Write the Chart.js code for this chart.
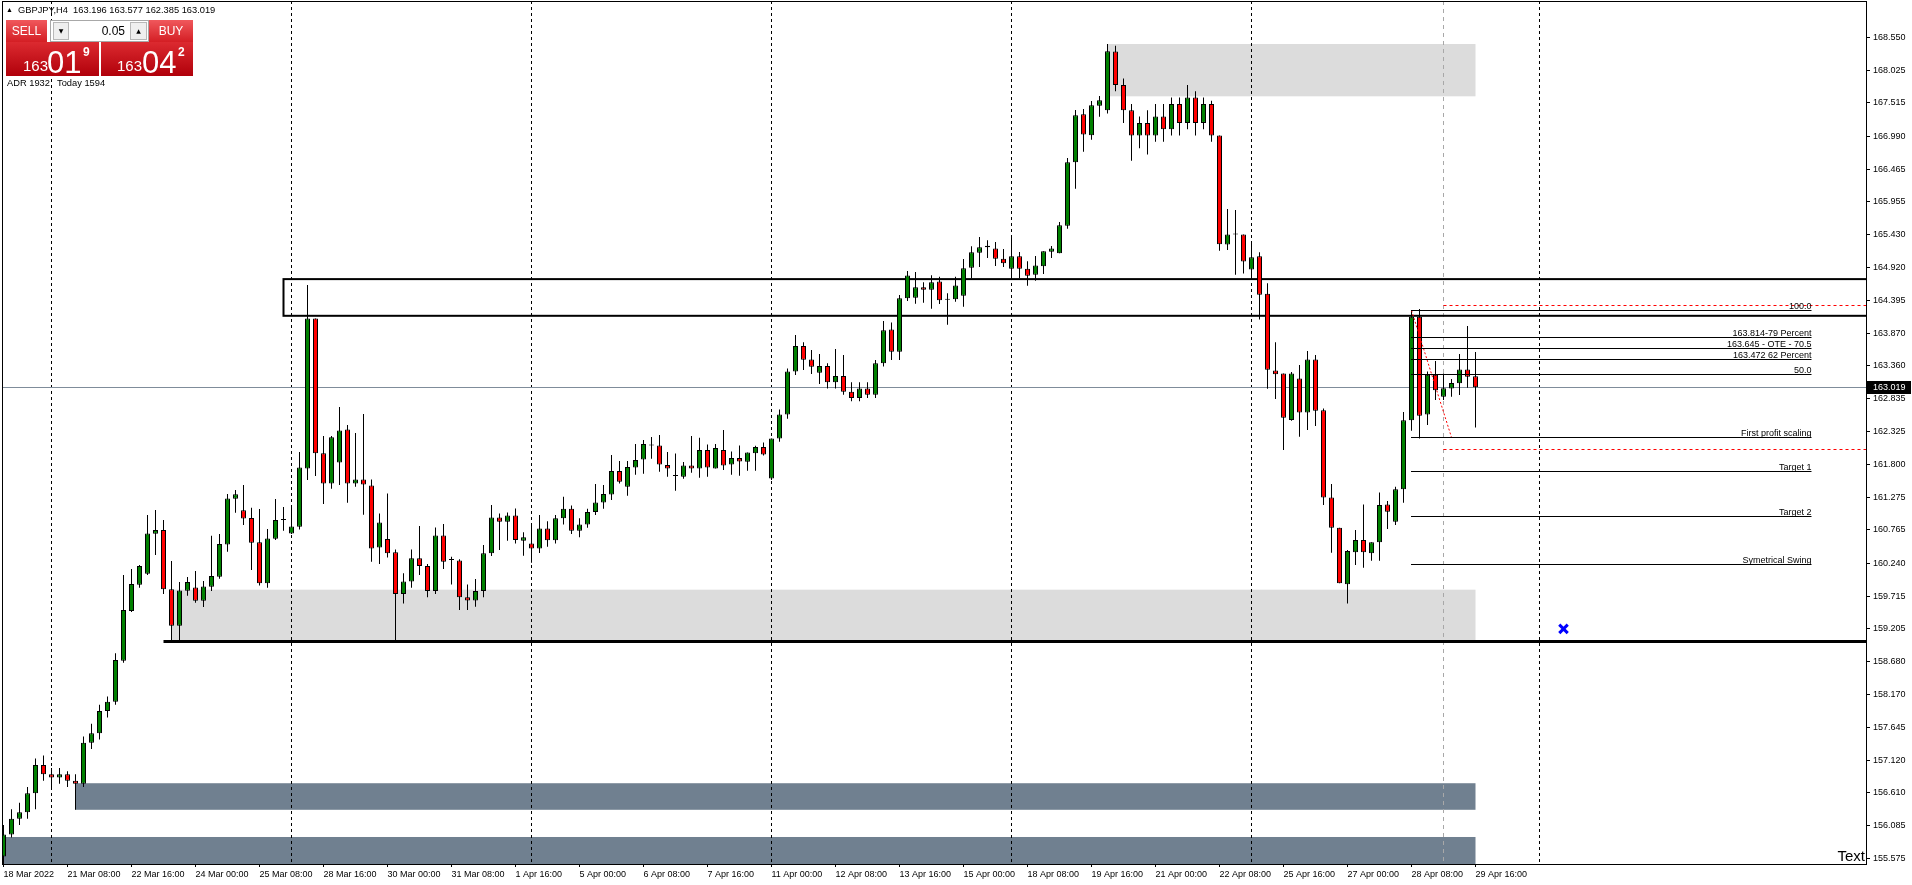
<!DOCTYPE html>
<html><head><meta charset="utf-8">
<script src="https://cdn.jsdelivr.net/npm/chart.js@4.4.0/dist/chart.umd.min.js"></script>
<style>
html,body{margin:0;padding:0;background:#fff;overflow:hidden}
#wrap{position:relative;width:1912px;height:885px}
canvas{position:absolute;left:0;top:0}
.t{position:absolute;font-family:"Liberation Sans",Arial,sans-serif;white-space:nowrap;line-height:1}
.btn{position:absolute;color:#fff;font-family:"Liberation Sans",Arial,sans-serif;font-size:12px;text-align:center;line-height:22px;background:linear-gradient(#f0585c,#d41e24)}
.big{position:absolute;background:linear-gradient(#dc2a30,#b0000a);color:#fff;font-family:"Liberation Sans",Arial,sans-serif}
.big span{position:absolute;line-height:1}
</style></head><body>
<div id="wrap">
<canvas id="c" width="1912" height="885"></canvas>
<div class="t" style="left:6px;top:6px;font-size:7px">▲</div>
<div class="t" style="left:18px;top:6px;font-size:9.3px">GBPJPY,H4&nbsp; 163.196 163.577 162.385 163.019</div>
<div class="btn" style="left:6px;top:20px;width:41px;height:22px">SELL</div>
<div style="position:absolute;left:50px;top:20px;width:97px;height:20px;background:#fff;border:1px solid #a8a8a8"></div>
<div style="position:absolute;left:53px;top:22px;width:14px;height:16px;background:#efefef;border:1px solid #b8b8b8;font-size:6px;text-align:center;line-height:16px;font-family:'DejaVu Sans'">▼</div>
<div style="position:absolute;left:130px;top:22px;width:15px;height:16px;background:#efefef;border:1px solid #b8b8b8;font-size:6px;text-align:center;line-height:16px;font-family:'DejaVu Sans'">▲</div>
<div class="t" style="left:97px;top:25px;width:28px;text-align:right;font-size:12px">0.05</div>
<div class="btn" style="left:149px;top:20px;width:44px;height:22px">BUY</div>
<div class="big" style="left:6px;top:42px;width:93px;height:34px">
  <span style="left:17px;top:16px;font-size:15px">163</span>
  <span style="left:41px;top:5px;font-size:31px">01</span>
  <span style="left:77px;top:4px;font-size:12px;font-weight:bold">9</span>
</div>
<div class="big" style="left:101px;top:42px;width:92px;height:34px">
  <span style="left:16px;top:16px;font-size:15px">163</span>
  <span style="left:41px;top:5px;font-size:31px">04</span>
  <span style="left:77px;top:4px;font-size:12px;font-weight:bold">2</span>
</div>
<div class="t" style="left:7px;top:79px;font-size:9.3px">ADR 1932</div>
<div class="t" style="left:57px;top:79px;font-size:9.3px">Today 1594</div>
</div>
<script>
// ---- data ----
const xLabels = ['18 Mar 2022','21 Mar 08:00','22 Mar 16:00','24 Mar 00:00','25 Mar 08:00','28 Mar 16:00','30 Mar 00:00','31 Mar 08:00','1 Apr 16:00','5 Apr 00:00','6 Apr 08:00','7 Apr 16:00','11 Apr 00:00','12 Apr 08:00','13 Apr 16:00','15 Apr 00:00','18 Apr 08:00','19 Apr 16:00','21 Apr 00:00','22 Apr 08:00','25 Apr 16:00','27 Apr 00:00','28 Apr 08:00','29 Apr 16:00'];
const labelStep = 8;
const yTicks = [168.550,168.025,167.515,166.990,166.465,165.955,165.430,164.920,164.395,163.870,163.360,162.835,162.325,161.800,161.275,160.765,160.240,159.715,159.205,158.680,158.170,157.645,157.120,156.610,156.085,155.575];

const open = [155.60,155.95,156.20,156.30,156.60,157.05,156.90,156.85,156.90,156.80,156.75,157.40,157.55,157.90,158.05,158.697,159.482,159.899,160.072,160.705,
160.763,159.825,159.25,159.804,159.856,159.645,159.867,160.025,160.536,161.258,161.074,160.952,160.568,159.92,160.625,160.92,160.71,160.815,161.737,164.109,
161.975,161.5,161.832,162.354,161.5,161.563,161.468,160.488,160.62,160.41,159.75,159.95,160.315,160.194,159.8,160.678,160.288,160.283,159.7,159.65,
159.8,160.394,160.963,160.894,160.994,160.594,160.552,160.473,160.789,160.6,160.95,161.1,160.75,160.85,161.05,161.2,161.326,161.695,161.447,161.753,
161.88,162.101,162.101,161.79,161.616,161.605,161.785,161.737,162.027,161.737,162.027,161.801,161.901,161.843,161.975,162.075,161.579,162.212,162.591,163.271,
163.672,163.461,163.25,163.355,163.1,163.2,162.95,162.85,163.0,162.9,163.4,163.935,163.582,164.426,164.436,164.6,164.563,164.694,164.405,164.41,
164.468,164.91,165.148,165.258,165.216,165.053,164.895,165.09,164.895,164.8,164.932,165.163,165.137,165.575,166.576,167.335,167.003,167.472,167.398,168.33,
167.8,167.4,167.0,167.2,167.0,167.3,167.1,167.5,167.2,167.6,167.2,167.5,167.0,165.279,165.437,165.437,164.884,165.09,164.499,163.287,
163.239,162.502,163.16,162.623,163.461,162.655,161.279,160.8,159.904,160.41,160.605,160.394,160.568,161.168,160.894,161.406,162.497,164.136,162.591,163.219,
162.871,163.0,163.082,163.303,163.196];
const high = [156.10,156.35,156.45,156.70,157.15,157.20,157.00,157.00,156.95,156.90,157.50,157.70,158.00,158.13,158.813,160.051,160.146,160.21,161.0,161.079,
160.921,160.273,159.94,160.02,160.114,159.956,160.673,160.7,161.332,161.395,161.474,161.116,161.095,160.778,161.252,161.126,161.152,161.995,164.636,164.109,
162.249,162.249,162.707,162.422,162.296,162.596,161.563,161.026,161.342,160.457,160.078,160.457,160.826,160.225,160.805,160.857,160.341,160.3,159.9,159.99,
160.526,161.158,161.026,161.042,161.105,160.726,160.868,161.0,160.9,161.0,161.29,161.15,160.95,161.1,161.49,161.474,161.948,161.853,161.853,162.122,
162.185,162.233,162.264,161.995,161.974,161.837,162.249,162.222,162.117,162.122,162.343,162.006,162.101,161.99,162.096,162.148,162.212,162.67,163.318,163.845,
163.73,163.608,163.545,163.4,163.625,163.53,163.1,163.1,163.1,163.45,164.067,164.046,164.479,164.858,164.842,164.679,164.79,164.768,164.505,164.768,
165.047,165.248,165.395,165.343,165.316,165.206,165.427,165.158,165.011,165.095,165.169,165.253,165.632,166.644,167.403,167.419,167.545,167.624,168.447,168.42,
167.9,167.5,167.3,167.4,167.5,167.5,167.6,167.6,167.8,167.7,167.6,167.55,167.0,165.838,165.822,165.437,165.316,165.153,164.663,163.73,
163.239,163.261,163.371,163.593,163.529,162.686,161.49,160.8,160.446,160.763,161.168,160.568,161.358,161.221,161.448,162.628,164.23,164.257,163.271,163.435,
163.239,163.15,163.545,163.988,163.577];
const low = [155.45,155.90,156.10,156.20,156.35,156.80,156.70,156.75,156.70,156.34,156.70,157.30,157.45,157.80,158.00,158.665,159.466,159.851,160.051,160.367,
159.751,158.997,158.997,159.725,159.614,159.545,159.798,159.993,160.42,161.037,160.842,160.13,159.888,159.85,160.604,160.752,160.70,160.773,161.553,161.616,
161.174,161.416,161.474,161.195,161.447,161.005,160.262,160.225,160.33,159.02,159.6,159.85,160.051,159.7,159.75,160.146,159.9,159.5,159.5,159.55,
159.7,160.352,160.447,160.594,160.552,160.357,160.246,160.4,160.5,160.55,160.85,160.7,160.65,160.8,161.0,161.1,161.237,161.5,161.305,161.637,
161.653,161.89,161.685,161.605,161.384,161.574,161.669,161.59,161.605,161.737,161.711,161.637,161.621,161.7,161.7,161.943,161.553,162.159,162.522,163.213,
163.292,163.229,163.071,163.0,163.0,162.9,162.8,162.8,162.85,162.85,163.35,163.45,163.45,164.384,164.341,164.357,164.262,164.336,164.009,164.373,
164.294,164.742,164.921,165.063,164.937,164.921,164.742,164.742,164.626,164.705,164.81,165.063,165.137,165.527,166.16,166.744,166.934,167.298,167.35,167.7,
167.2,166.6,166.8,166.7,166.9,166.9,167.0,167.0,167.1,167.0,167.1,166.9,165.18,165.189,164.8,164.82,164.742,164.093,162.997,162.834,
162.028,162.491,162.238,162.344,162.407,161.158,160.404,159.92,159.6,160.209,160.167,160.278,160.278,160.778,160.842,161.195,162.333,162.212,162.423,162.818,
162.818,162.871,162.897,163.013,162.385];
const close = [155.95,156.20,156.30,156.60,157.05,156.90,156.85,156.90,156.80,156.75,157.40,157.55,157.90,158.05,158.707,159.498,159.909,160.194,160.71,160.763,
159.825,159.25,159.809,159.94,159.645,159.872,160.035,160.541,161.263,161.327,160.947,160.562,159.92,160.631,160.92,160.92,160.82,161.753,164.109,161.975,
161.5,162.228,162.338,161.5,161.563,161.484,160.472,160.884,160.394,159.75,159.95,160.315,160.194,159.8,160.678,160.262,160.288,159.7,159.65,159.8,
160.394,160.963,160.894,160.994,160.604,160.647,160.473,160.789,160.6,160.95,161.1,160.75,160.85,161.05,161.2,161.332,161.695,161.527,161.758,161.869,
162.122,162.101,161.801,161.737,161.616,161.785,161.737,162.027,161.753,162.059,161.785,161.901,161.848,161.99,162.075,161.959,162.212,162.591,163.271,163.672,
163.455,163.344,163.355,163.1,163.2,162.95,162.85,163.0,162.9,163.4,163.92,163.582,164.426,164.789,164.6,164.563,164.679,164.394,164.405,164.631,
164.9,165.153,165.232,165.232,165.053,164.979,165.09,164.895,164.784,164.947,165.169,165.216,165.58,166.576,167.319,167.018,167.477,167.556,168.331,167.8,
167.4,167.0,167.2,167.0,167.3,167.1,167.5,167.2,167.6,167.2,167.5,167.0,165.28,165.437,165.437,165.01,165.074,164.483,163.297,163.224,
162.539,163.239,162.623,163.461,162.649,161.279,160.8,159.92,160.43,160.605,160.41,160.568,161.158,161.052,161.406,162.497,164.136,162.57,163.219,162.971,
163.003,163.087,163.303,163.187,163.019];

const lastPrice = 163.019;
// drawn objects (bar index / price)
const lightZones = [[138,184,167.62,168.447],[21,184,159.00,159.82]];
const slateZones = [[9,184,156.34,156.76],[0,184,155.30,155.91]];
const outlineBox = [35,164.15,164.73];
const supportLine = [20,159.00];
const weekSeparators = [6,36,66,96,126,156,192];
const markerLine = 180;
const fibRange = [176,226];
const fibLevels = [164.236,163.814,163.645,163.472,163.231,162.228,161.691,160.980,160.220];
const fibTexts = ['100.0','163.814-79 Percent','163.645 - OTE - 70.5','163.472 62 Percent','50.0','First profit scaling','Target 1','Target 2','Symetrical Swing'];
const redLevels = [164.320,162.039];
const redLevelStart = 180;
const trendPts = [[176,164.236],[181,162.228]];
const crossPt = [195,159.20];

// ---- chart ----
const N = open.length;
const idx = Array.from({length:N},(_,i)=>i);
const bodies = idx.map(i=>({x:i,y:[open[i],close[i]]}));
const wicks = idx.map(i=>({x:i,y:[low[i],high[i]]}));
const bodyColors = idx.map(i=>close[i]>=open[i]?'#008000':'#ff0000');

const PX_PER_BAR = 8;
const X_MIN = -0.1875, X_MAX = X_MIN + 1864/PX_PER_BAR;
const Y_MAX = 169.127, Y_MIN = 155.483;
const FONT = 'Liberation Sans, Arial, sans-serif';
const FS = 9;

const overlay = {
  id:'overlay',
  beforeDatasetsDraw(chart){
    const {ctx, chartArea:a, scales:{x,y}} = chart;
    ctx.save();
    ctx.beginPath(); ctx.rect(a.left,a.top,a.right-a.left,a.bottom-a.top); ctx.clip();
    lightZones.forEach(z=>{
      ctx.fillStyle='#dcdcdc';
      const x0=x.getPixelForValue(z[0]), x1=x.getPixelForValue(z[1]);
      const y0=y.getPixelForValue(z[3]), y1=y.getPixelForValue(z[2]);
      ctx.fillRect(x0,y0,x1-x0,y1-y0);
    });
    slateZones.forEach(z=>{
      ctx.fillStyle='#708090';
      const x0=x.getPixelForValue(z[0]), x1=x.getPixelForValue(z[1]);
      const y0=y.getPixelForValue(z[3]), y1=y.getPixelForValue(z[2]);
      ctx.fillRect(x0,y0,x1-x0,y1-y0);
    });
    ctx.strokeStyle='#000'; ctx.lineWidth=1; ctx.setLineDash([3,3]);
    weekSeparators.forEach(b=>{
      const px=Math.round(x.getPixelForValue(b))-0.5;
      ctx.beginPath(); ctx.moveTo(px,a.top); ctx.lineTo(px,a.bottom); ctx.stroke();
    });
    ctx.strokeStyle='#a8a8a8'; ctx.setLineDash([4,4]);
    {const px=Math.round(x.getPixelForValue(markerLine))-0.5;
     ctx.beginPath(); ctx.moveTo(px,a.top); ctx.lineTo(px,a.bottom); ctx.stroke();}
    ctx.setLineDash([]);
    ctx.strokeStyle='#7f8c9a';
    {const py=Math.round(y.getPixelForValue(lastPrice))+0.5;
     ctx.beginPath(); ctx.moveTo(a.left,py); ctx.lineTo(a.right,py); ctx.stroke();}
    ctx.strokeStyle='#000'; ctx.lineWidth=2;
    {const x0=x.getPixelForValue(outlineBox[0]);
     const y0=y.getPixelForValue(outlineBox[2]), y1=y.getPixelForValue(outlineBox[1]);
     ctx.strokeRect(x0,y0,a.right+10-x0,y1-y0);}
    ctx.lineWidth=3;
    {const x0=x.getPixelForValue(supportLine[0]); const py=y.getPixelForValue(supportLine[1]);
     ctx.beginPath(); ctx.moveTo(x0,py); ctx.lineTo(a.right,py); ctx.stroke();}
    ctx.restore();
  },
  afterDatasetsDraw(chart){
    const {ctx, chartArea:a, scales:{x,y}} = chart;
    ctx.save();
    ctx.beginPath(); ctx.rect(a.left,a.top,a.right-a.left,a.bottom-a.top); ctx.clip();
    ctx.strokeStyle='#ff0000'; ctx.lineWidth=1; ctx.setLineDash([3,3]);
    redLevels.forEach(p=>{
      const py=Math.round(y.getPixelForValue(p))+0.5;
      ctx.beginPath(); ctx.moveTo(x.getPixelForValue(redLevelStart),py); ctx.lineTo(a.right,py); ctx.stroke();
    });
    ctx.setLineDash([]);
    ctx.strokeStyle='#000'; ctx.fillStyle='#000';
    ctx.font=FS+'px '+FONT; ctx.textAlign='right'; ctx.textBaseline='alphabetic';
    const fx0=x.getPixelForValue(fibRange[0])-0.5, fx1=x.getPixelForValue(fibRange[1]);
    fibLevels.forEach((p,k)=>{
      const py=Math.round(y.getPixelForValue(p))+0.5;
      ctx.beginPath(); ctx.moveTo(fx0,py); ctx.lineTo(fx1,py); ctx.stroke();
      ctx.fillText(fibTexts[k], fx1, py-2);
    });
    ctx.restore();
    ctx.save();
    ctx.strokeStyle='#000'; ctx.lineWidth=1;
    ctx.strokeRect(a.left+0.5,a.top+0.5,a.right-a.left,a.bottom-a.top);
    ctx.fillStyle='#000'; ctx.font='15px '+FONT; ctx.textAlign='right'; ctx.textBaseline='alphabetic';
    ctx.fillText('Text', a.right-1, a.bottom-3);
    const py=y.getPixelForValue(lastPrice);
    ctx.fillStyle='#000'; ctx.fillRect(a.right+1, Math.round(py)-6, 44, 13);
    ctx.fillStyle='#fff'; ctx.font=FS+'px '+FONT; ctx.textAlign='left'; ctx.textBaseline='middle';
    ctx.fillText(lastPrice.toFixed(3), a.right+7, Math.round(py)+0.5);
    ctx.restore();
  }
};

new Chart(document.getElementById('c'), {
  type:'bar',
  data:{datasets:[
    {label:'body', data:bodies, backgroundColor:bodyColors, borderColor:'#000', borderWidth:1, borderSkipped:false,
     barThickness:5, grouped:false, minBarLength:1, inflateAmount:0, order:1},
    {label:'wick', data:wicks, backgroundColor:'#000', borderWidth:0, barThickness:1, grouped:false, inflateAmount:0, order:2},
    {type:'line', label:'trend', data:trendPts.map(p=>({x:p[0],y:p[1]})), borderColor:'#ff0000', borderWidth:1,
     borderDash:[2,2], pointRadius:0, fill:false, order:0},
    {type:'line', label:'cross', data:[{x:crossPt[0],y:crossPt[1]}], showLine:false, pointStyle:'crossRot',
     pointRadius:6, borderColor:'#0000ff', borderWidth:3, order:0}
  ]},
  options:{
    responsive:false, animation:false, devicePixelRatio:1,
    layout:{autoPadding:false, padding:{left:2,top:1,right:0,bottom:0}},
    plugins:{legend:{display:false}, tooltip:{enabled:false}},
    scales:{
      x:{type:'linear', min:X_MIN, max:X_MAX, offset:false,
         afterFit(s){ s.height=21; s.paddingLeft=0; s.paddingRight=0; s.paddingTop=0; s.paddingBottom=0; },
         afterBuildTicks(s){ s.ticks = xLabels.map((l,k)=>({value:k*labelStep})); },
         ticks:{callback:(v,i)=>xLabels[i], align:'start', maxRotation:0, autoSkip:false, color:'#000',
                font:{family:FONT,size:FS}, padding:2},
         grid:{drawOnChartArea:false, drawTicks:true, tickLength:3, color:'#000', offset:false},
         border:{display:false}},
      y:{type:'linear', position:'right', min:Y_MIN, max:Y_MAX,
         afterFit(s){ s.width=46; s.paddingLeft=0; s.paddingRight=0; s.paddingTop=0; s.paddingBottom=0; },
         afterBuildTicks(s){ s.ticks = yTicks.map(v=>({value:v})); },
         ticks:{callback:v=>Number(v).toFixed(3), color:'#000', font:{family:FONT,size:FS}, padding:3, autoSkip:false, crossAlign:'near'},
         grid:{drawOnChartArea:false, drawTicks:true, tickLength:4, color:'#000'},
         border:{display:false}}
    }
  },
  plugins:[overlay]
});
</script>
</body></html>
